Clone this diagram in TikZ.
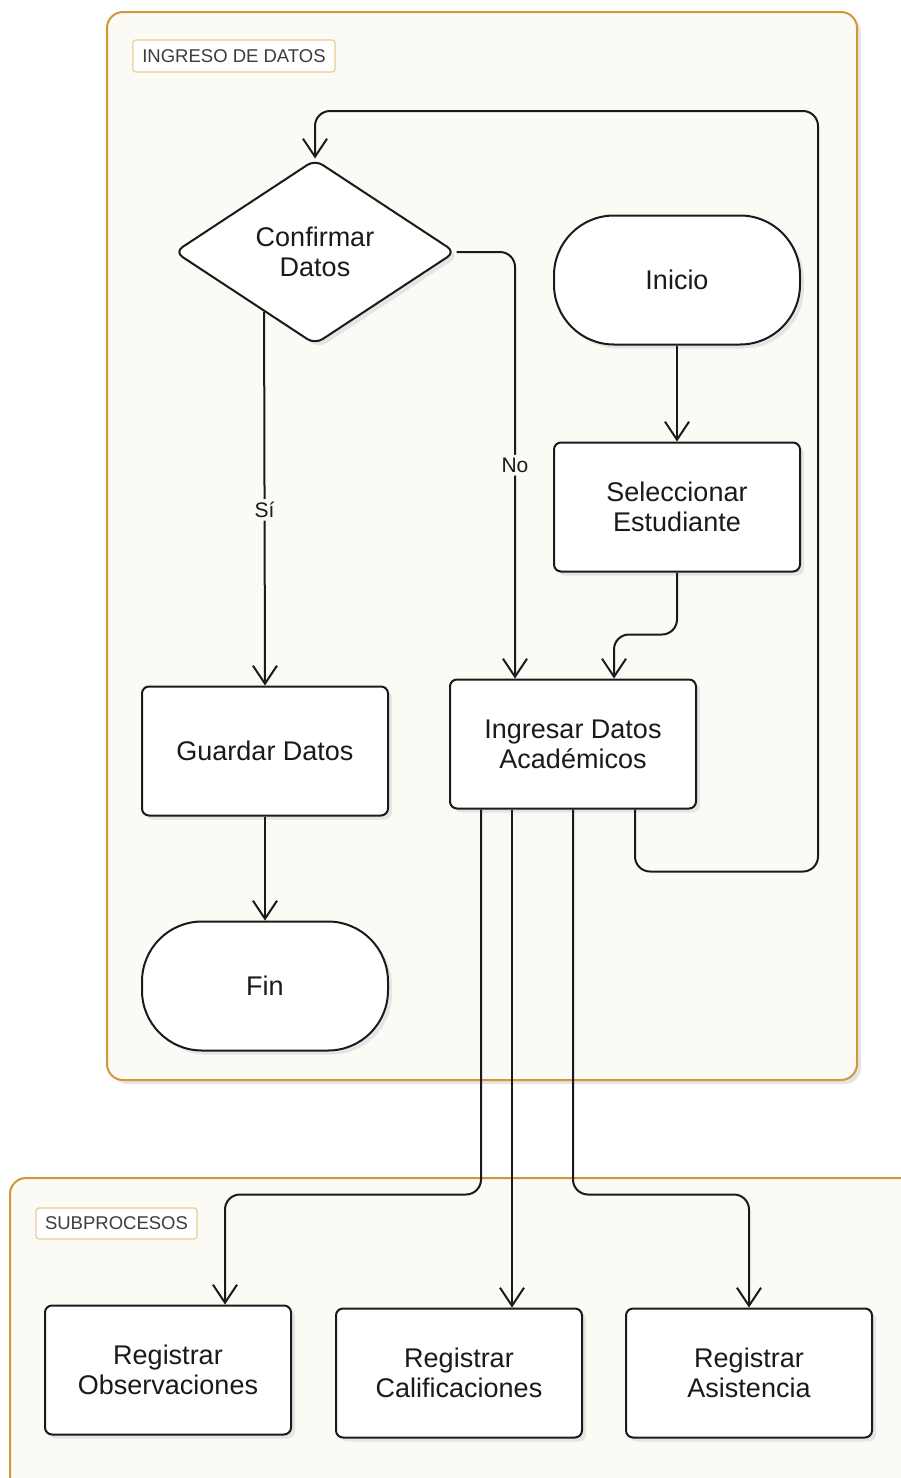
\documentclass[tikz,border=0pt]{standalone}
\usepackage{fontspec}
\setmainfont{Liberation Sans}
\usepackage{xcolor}
\usetikzlibrary{positioning,arrows.meta,shapes.geometric,shadows,calc}
\definecolor{laneFill}{HTML}{FBFAF5}
\definecolor{laneLine}{HTML}{D4963C}
\definecolor{tagLine}{HTML}{EDCB96}
\definecolor{tagText}{HTML}{3C3C3C}
\definecolor{inkLine}{HTML}{1A1A1A}

\begin{document}
\begin{tikzpicture}[
x=1pt, y=-1pt,
font=\fontsize{27}{30}\selectfont,
softshadow/.style={drop shadow={shadow xshift=4pt, shadow yshift=-4pt, fill=black!10, opacity=1}},
lane/.style={draw=laneLine, line width=2pt, rounded corners=16pt, fill=laneFill, softshadow},
tag/.style={draw=tagLine, line width=1.2pt, rounded corners=3pt, fill=white, text=tagText, font=\fontsize{18.5}{20}\selectfont, inner sep=0pt},
proc/.style={draw=inkLine, line width=2pt, rounded corners=7pt, fill=white, minimum width=246pt, minimum height=129pt, align=center, inner sep=0pt, text=inkLine, softshadow},
term/.style={proc, rounded corners=60pt},
decision/.style={diamond, draw=inkLine, line width=2pt, rounded corners=9pt, fill=white, aspect=1.52, minimum width=281pt, minimum height=185pt, align=center, inner sep=0pt, text=inkLine, softshadow},
arrow/.style={-{Straight Barb[length=18pt, width=24pt]}, line width=2pt, draw=inkLine, rounded corners=15pt},
elabel/.style={fill=laneFill, font=\fontsize{21}{23}\selectfont, inner sep=3pt, text=inkLine}
]
\useasboundingbox (0,0) rectangle (900,1478);

% swimlanes
\draw[lane] (107,12) rectangle (857,1080);
\draw[lane] (10,1178) rectangle (930,1510);
\node[tag, minimum width=202pt, minimum height=32pt] (tagIngreso) at (234,56) {INGRESO DE DATOS};
\node[tag, minimum width=161pt, minimum height=31pt] (tagSub) at (116.5,1223.5) {SUBPROCESOS};

% flow nodes
\node[decision] (conf) at (315,252) {Confirmar\\Datos};
\node[term] (ini) at (677,280) {Inicio};
\node[proc, below=96pt of ini] (sel) {Seleccionar\\Estudiante};
\node[proc] (ingr) at (573,744) {Ingresar Datos\\Académicos};
\node[proc] (guard) at (265,751) {Guardar Datos};
\node[term, below=104pt of guard] (fin) {Fin};
\node[proc] (obs) at (168,1370) {Registrar\\Observaciones};
\node[proc] (cal) at (459,1373) {Registrar\\Calificaciones};
\node[proc] (asis) at (749,1373) {Registrar\\Asistencia};
\coordinate (loopR) at (818,111);

% connectors
\draw[arrow] (ini) -- (sel);
\draw[arrow] (sel.south) -- ++(0,62) -| ([xshift=41pt]ingr.north);
\draw[arrow] (conf.east) -| node[elabel, pos=0.75] {No} ([xshift=-58pt]ingr.north);
\draw[arrow] ($(conf.west)!0.64!(conf.south)$) -- node[elabel, pos=0.53] {Sí} (guard.north);
\draw[arrow] (guard) -- (fin);
\draw[arrow] ([xshift=62pt]ingr.south) -- ++(0,62) -| (loopR) -| (conf.north);
\draw[arrow] ([xshift=-92pt]ingr.south) -- ++(0,385) -| ([xshift=57pt]obs.north);
\draw[arrow] ([xshift=-61pt]ingr.south) -- ([xshift=53pt]cal.north);
\draw[arrow] (ingr.south) -- ++(0,385) -| (asis.north);
\end{tikzpicture}
\end{document}
